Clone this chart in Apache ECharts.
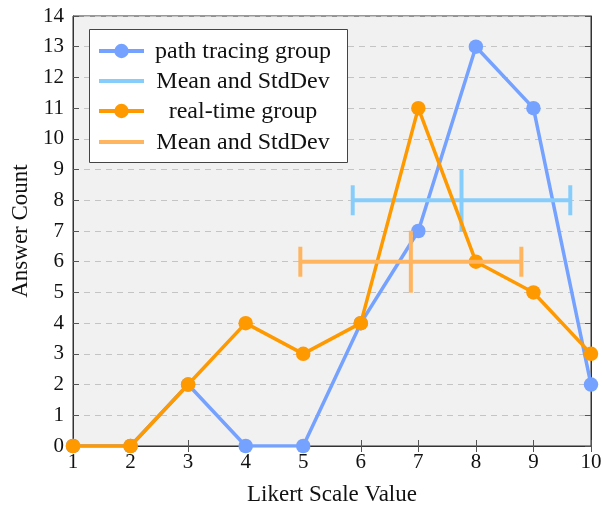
<!DOCTYPE html>
<html><head><meta charset="utf-8">
<script src="https://cdn.jsdelivr.net/npm/echarts@6/dist/echarts.min.js"></script>
<style>html,body{margin:0;padding:0;background:#fff}#c{width:602px;height:508px}</style>
</head><body><div id="c"></div>
<script>
const likert = [1,2,3,4,5,6,7,8,9,10];
const pathTracing = [0,0,2,0,0,4,7,13,11,2];
const realTime = [0,0,2,4,3,4,11,6,5,3];
// [mean, plotted y, std dev]
const ptStats = [7.75, 8, 1.89];
const rtStats = [6.87, 6, 1.92];
const xTicks = [1,2,3,4,5,6,7,8,9,10];
const yTicks = [0,1,2,3,4,5,6,7,8,9,10,11,12,13,14];

const FONT = 'Liberation Serif';
const cBlue = '#76a2ff', cBlueSd = '#87cdfb', cOrange = '#ff9900', cOrangeSd = '#ffb55f';

function errBar(color){
  return function(params, api){
    const m = api.value(0), y = api.value(1), s = api.value(2);
    const l = api.coord([m - s, y]), r = api.coord([m + s, y]), c = api.coord([m, y]);
    const st = {stroke: color, lineWidth: 4};
    return {type:'group', children:[
      {type:'line', shape:{x1:l[0], y1:l[1], x2:r[0], y2:r[1]}, style:st},
      {type:'line', shape:{x1:l[0], y1:l[1]-15, x2:l[0], y2:l[1]+15}, style:st},
      {type:'line', shape:{x1:r[0], y1:r[1]-15, x2:r[0], y2:r[1]+15}, style:st},
      {type:'line', shape:{x1:c[0], y1:c[1]-31, x2:c[0], y2:c[1]+31}, style:st}
    ]};
  };
}

const chart = echarts.init(document.getElementById('c'), null, {renderer:'canvas'});
const axisCommon = {
  axisLine:{show:true, lineStyle:{color:'#333', width:1}},
  axisTick:{show:true, inside:true, length:6, lineStyle:{color:'#555', width:1}},
};
const legendRows = [
  {name:'path tracing group', color:cBlue, dot:true},
  {name:'Mean and StdDev', color:cBlueSd, dot:false},
  {name:'real-time group', color:cOrange, dot:true},
  {name:'Mean and StdDev', color:cOrangeSd, dot:false}
];
const rowY = [51, 81, 111, 142];
const graphics = [{type:'rect', shape:{x:89.5, y:29.5, width:258, height:133}, style:{fill:'#fff', stroke:'#444', lineWidth:1}, z:100}];
legendRows.forEach((r,i)=>{
  graphics.push({type:'line', shape:{x1:99, y1:rowY[i], x2:144, y2:rowY[i]}, style:{stroke:r.color, lineWidth:4}, z:101});
  if (r.dot) graphics.push({type:'circle', shape:{cx:121.5, cy:rowY[i], r:7.2}, style:{fill:r.color}, z:102});
  graphics.push({type:'text', x:243, y:rowY[i]+1, style:{text:r.name, font:'24px "'+FONT+'"', fill:'#111', align:'center', verticalAlign:'middle'}, z:102});
});

chart.setOption({
  animation:false,
  textStyle:{fontFamily:FONT},
  grid:{left:73, right:11, top:16, bottom:62, outerBoundsMode:'none', containLabel:false, show:true, backgroundColor:'#f1f1f1', borderColor:'#333', borderWidth:1},
  xAxis:[
    Object.assign({type:'value', min:1, max:10, interval:1, position:'bottom',
      name:'Likert Scale Value', nameLocation:'middle', nameGap:37,
      nameTextStyle:{fontFamily:FONT, fontSize:23, color:'#111'},
      axisLabel:{fontFamily:FONT, fontSize:21, color:'#111', margin:6},
      splitLine:{show:false}}, axisCommon),
    Object.assign({type:'value', min:1, max:10, interval:1, position:'top',
      axisLabel:{show:false}, splitLine:{show:false}}, axisCommon)
  ],
  yAxis:[
    Object.assign({type:'value', min:0, max:14, interval:1, position:'left',
      name:'Answer Count', nameLocation:'middle', nameGap:40, nameRotate:90,
      nameTextStyle:{fontFamily:FONT, fontSize:23, color:'#111'},
      axisLabel:{fontFamily:FONT, fontSize:21, color:'#111', margin:9},
      splitLine:{show:true, lineStyle:{color:'#c4c4c4', type:[6,5], width:1}}}, axisCommon),
    Object.assign({type:'value', min:0, max:14, interval:1, position:'right',
      axisLabel:{show:false}, splitLine:{show:false}}, axisCommon)
  ],
  series:[
    {name:'path tracing group', type:'line', data:likert.map((x,i)=>[x, pathTracing[i]]),
      symbol:'circle', symbolSize:14.5, itemStyle:{color:cBlue}, lineStyle:{color:cBlue, width:3.5}, z:3},
    {name:'Mean and StdDev', type:'custom', renderItem:errBar(cBlueSd), data:[ptStats], z:4, encode:{x:0, y:1}},
    {name:'real-time group', type:'line', data:likert.map((x,i)=>[x, realTime[i]]),
      symbol:'circle', symbolSize:14.5, itemStyle:{color:cOrange}, lineStyle:{color:cOrange, width:3.5}, z:5},
    {name:'Mean and StdDev ', type:'custom', renderItem:errBar(cOrangeSd), data:[rtStats], z:6, encode:{x:0, y:1}}
  ],
  graphic:graphics
});
</script></body></html>
